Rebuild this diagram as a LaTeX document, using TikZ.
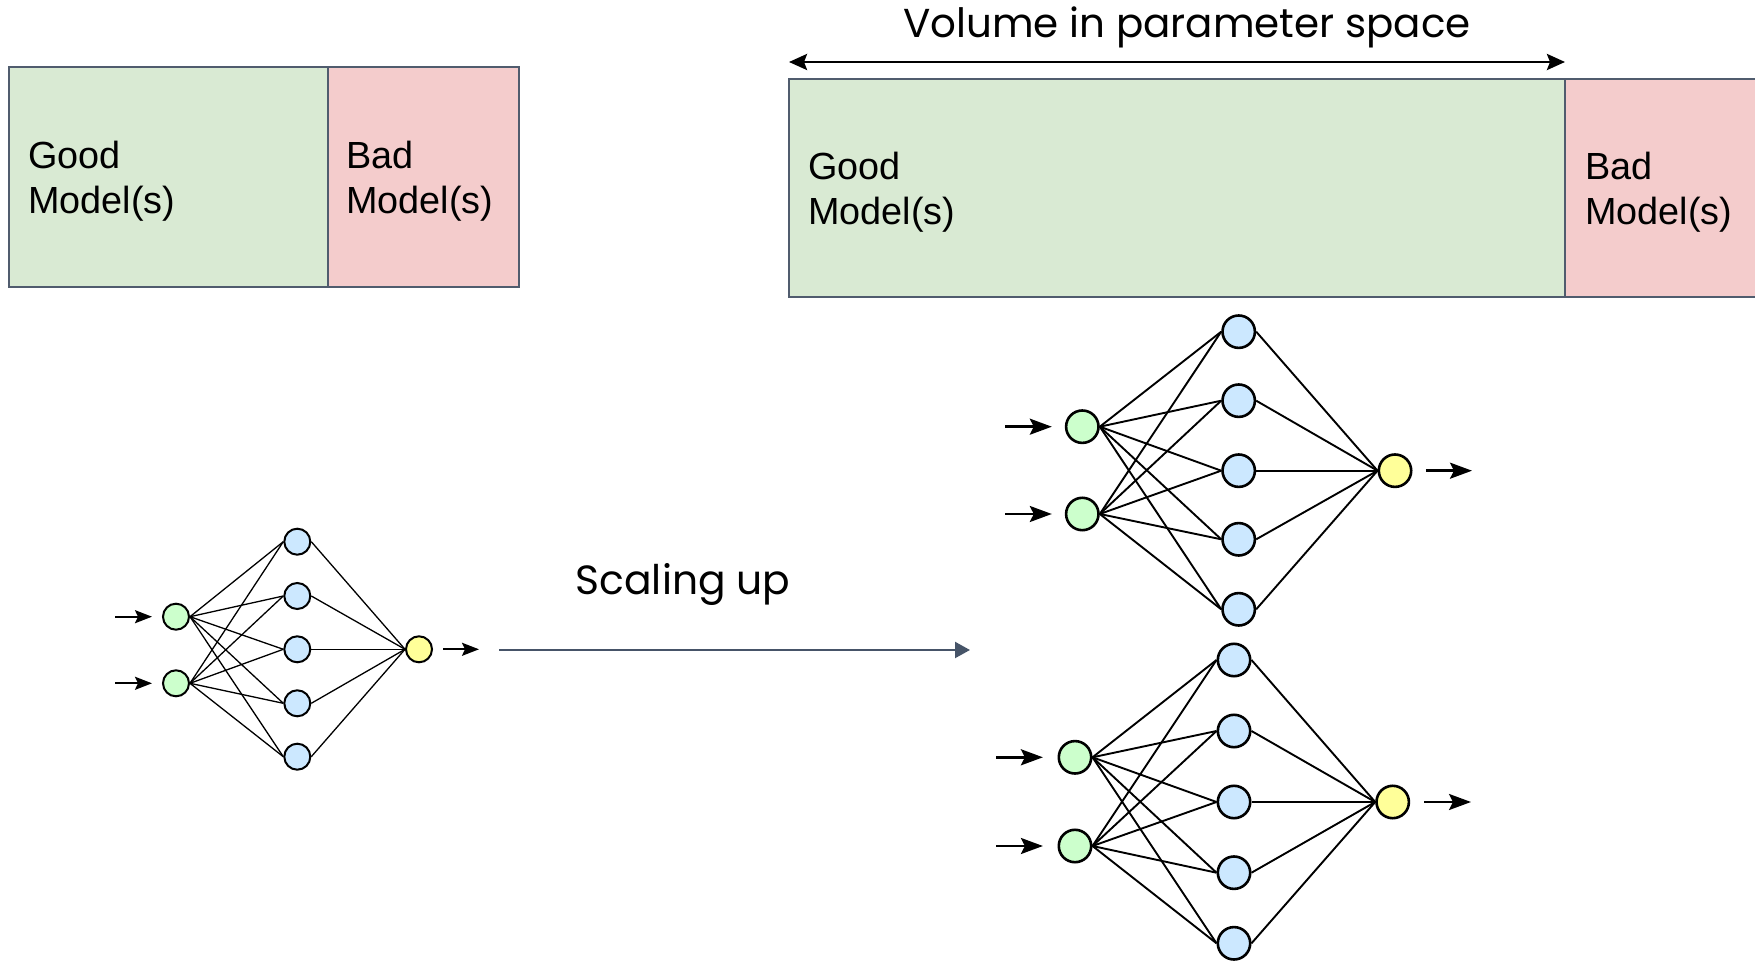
\documentclass[tikz,border=0pt]{standalone}
\usepackage{fontspec}
\setmainfont{Liberation Sans}
\newfontfamily\popfont{Poppins}
\usetikzlibrary{arrows.meta}
\definecolor{boxborder}{RGB}{80,92,110}
\definecolor{goodfill}{RGB}{217,234,211}
\definecolor{badfill}{RGB}{244,204,204}
\definecolor{ingreen}{RGB}{204,255,204}
\definecolor{hidblue}{RGB}{204,232,255}
\definecolor{outyellow}{RGB}{255,255,153}
\definecolor{scalecol}{RGB}{70,84,104}
\begin{document}
\begin{tikzpicture}[x=0.5pt,y=-0.5pt,
  goodbox/.style={draw=boxborder, line width=1pt, fill=goodfill},
  badbox/.style={draw=boxborder, line width=1pt, fill=badfill},
  boxtext/.style={anchor=base west, inner sep=0pt, align=left, font=\fontsize{18.9pt}{22.5pt}\selectfont},
  popA/.style={anchor=base, inner sep=0pt, font=\popfont\fontsize{20.2pt}{24pt}\selectfont},
  popB/.style={anchor=base, inner sep=0pt, font=\popfont\fontsize{20.4pt}{24pt}\selectfont},
  inS/.style={circle, draw=black, line width=1pt, fill=ingreen, minimum size=13pt, inner sep=0pt},
  hidS/.style={inS, fill=hidblue},
  outS/.style={inS, fill=outyellow},
  inL/.style={circle, draw=black, line width=1.3pt, fill=ingreen, minimum size=16.2pt, inner sep=0pt},
  hidL/.style={inL, fill=hidblue},
  outL/.style={inL, fill=outyellow},
  linkS/.style={line width=0.65pt},
  linkL/.style={line width=0.95pt},
  feedS/.style={line width=1pt, -{Stealth[length=8.5pt,width=6.5pt,inset=1.5pt]}},
  feedL/.style={line width=1.3pt, -{Stealth[length=11pt,width=8pt,inset=2pt]}},
  volarrow/.style={line width=1.4pt, {Stealth[length=9pt,width=8pt,inset=1.5pt]}-{Stealth[length=9pt,width=8pt,inset=1.5pt]}},
  scalearrow/.style={draw=scalecol, line width=1.1pt, -{Triangle[length=7.5pt,width=8pt]}, scalecol},
]
\useasboundingbox (0,0) rectangle (1755,961);
\clip (0,0) rectangle (1755,961);
\fill[white] (0,0) rectangle (1755,961);

% ---- left boxes
\draw[goodbox] (9,67) rectangle (328,287);
\draw[badbox] (328,67) rectangle (519,287);
\node[boxtext] (gtxt1) at (28,214) {Good\\Model(s)};
\node[boxtext] (btxt1) at (346,214) {Bad\\Model(s)};

% ---- right boxes
\draw[goodbox] (789,79) rectangle (1565,297);
\draw[badbox] (1565,79) rectangle (1780,297);
\node[boxtext] (gtxt2) at (808,225) {Good\\Model(s)};
\node[boxtext] (btxt2) at (1585,225) {Bad\\Model(s)};

% ---- volume arrow
\coordinate (vl) at (789,62);
\coordinate (vr) at (1565,62);
\draw[volarrow] (vl) -- (vr);
\node[popA] (voltxt) at (1187,38) {Volume in parameter space};

% ---- scaling arrow
\coordinate (sl) at (499,650);
\coordinate (sr) at (970,650);
\draw[scalearrow] (sl) -- (sr);
\node[popB] (scaletxt) at (683,595) {Scaling up};

% ---- small network
\foreach \i/\y in {1/616.7,2/683.3} \node[inS] (a\i) at (176,\y) {};
\foreach \j/\y in {1/541.7,2/596,3/649.3,4/703.3,5/756.7} \node[hidS] (ah\j) at (297.3,\y) {};
\node[outS] (ao) at (419,649.3) {};
\foreach \i in {1,2} \foreach \j in {1,...,5} \draw[linkS] (a\i.east) -- (ah\j.west);
\foreach \j in {1,...,5} \draw[linkS] (ah\j.east) -- (ao.west);
\coordinate (ain1) at (115,616.7);
\coordinate (ain2) at (115,683.3);
\coordinate (aout) at (479,649.3);
\draw[feedS, shorten >=5pt] (ain1) -- (a1);
\draw[feedS, shorten >=5pt] (ain2) -- (a2);
\draw[feedS, shorten <=5pt] (ao) -- (aout);

% ---- upper large network
\foreach \i/\y in {1/426.7,2/514} \node[inL] (b\i) at (1082.3,\y) {};
\foreach \j/\y in {1/331.7,2/400.7,3/470.7,4/539.3,5/609.3} \node[hidL] (bh\j) at (1238.7,\y) {};
\node[outL] (bo) at (1395,470.7) {};
\foreach \i in {1,2} \foreach \j in {1,...,5} \draw[linkL] (b\i.east) -- (bh\j.west);
\foreach \j in {1,...,5} \draw[linkL] (bh\j.east) -- (bo.west);
\coordinate (bin1) at (1005,426.7);
\coordinate (bin2) at (1005,514);
\coordinate (bout) at (1472,470.7);
\draw[feedL, shorten >=6.5pt] (bin1) -- (b1);
\draw[feedL, shorten >=6.5pt] (bin2) -- (b2);
\draw[feedL, shorten <=6.7pt] (bo) -- (bout);

% ---- lower large network
\foreach \i/\y in {1/757.3,2/846} \node[inL] (c\i) at (1075,\y) {};
\foreach \j/\y in {1/660,2/731,3/802,4/872.7,5/943.3} \node[hidL] (ch\j) at (1234,\y) {};
\node[outL] (co) at (1392.7,802) {};
\foreach \i in {1,2} \foreach \j in {1,...,5} \draw[linkL] (c\i.east) -- (ch\j.west);
\foreach \j in {1,...,5} \draw[linkL] (ch\j.east) -- (co.west);
\coordinate (cin1) at (996,757.3);
\coordinate (cin2) at (996,846);
\coordinate (cout) at (1471,802);
\draw[feedL, shorten >=7.3pt] (cin1) -- (c1);
\draw[feedL, shorten >=7.3pt] (cin2) -- (c2);
\draw[feedL, shorten <=7pt] (co) -- (cout);
\end{tikzpicture}
\end{document}
